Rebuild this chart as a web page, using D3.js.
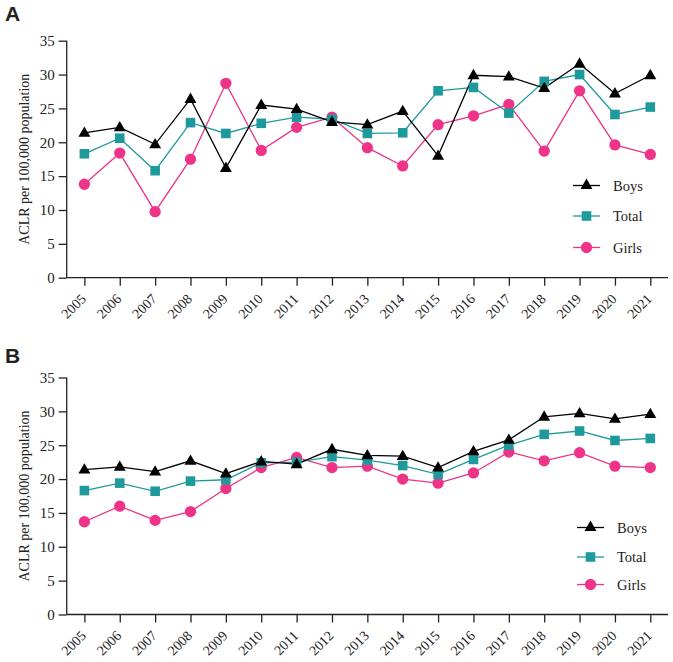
<!DOCTYPE html>
<html><head><meta charset="utf-8">
<script src="https://cdn.jsdelivr.net/npm/d3@7"></script>
<style>body{margin:0;background:#fff}svg{display:block}
svg text{font-family:"Liberation Serif","Times New Roman",Tinos,serif}
svg text.plabel{font-family:"Liberation Sans",Arial,sans-serif;font-weight:bold}
</style>
</head><body>
<svg id="c" width="673" height="662"></svg>
<script>
const years = ["2005","2006","2007","2008","2009","2010","2011","2012","2013","2014","2015","2016","2017","2018","2019","2020","2021"];
const yTicks = [0,5,10,15,20,25,30,35];
const seriesNames = ["Boys","Total","Girls"];
const seriesColors = ["#000000","#1f9a9c","#ee3389"];
const seriesSymbols = ["triangle","square","circle"];

const boysA  = [21.4,22.2,19.7,26.4,16.2,25.5,24.9,23.0,22.6,24.6,18.0,29.9,29.7,28.0,31.6,27.2,29.9];
const totalA = [18.3,20.6,15.8,22.9,21.3,22.8,23.7,23.4,21.3,21.4,27.6,28.1,24.3,29.0,30.0,24.1,25.2];
const girlsA = [13.8,18.4,9.75,17.5,28.7,18.8,22.2,23.7,19.2,16.5,22.6,23.9,25.6,18.7,27.6,19.6,18.2];

const boysB  = [21.4,21.8,21.1,22.7,20.8,22.6,22.2,24.4,23.5,23.4,21.7,24.1,25.8,29.2,29.7,28.9,29.6];
const totalB = [18.3,19.4,18.2,19.7,19.9,22.4,22.5,23.3,22.8,22.0,20.7,22.9,25.0,26.6,27.1,25.7,26.0];
const girlsB = [13.7,16.0,13.9,15.2,18.6,21.7,23.2,21.7,21.9,20.0,19.4,20.9,24.0,22.7,23.9,21.9,21.7];

const svg = d3.select("#c");
const serif = '"Liberation Serif","Times New Roman",Tinos,serif';

function symbolPath(kind){
  if(kind==="triangle") return d3.symbol(d3.symbolTriangle, 62)();
  if(kind==="square") return d3.symbol(d3.symbolSquare, 92)();
  return d3.symbol(d3.symbolCircle, 100)();
}

function panel(letter, top, letterBase, data, legendY, legendX){
  const x0 = 66.7, x1 = 668, yTop = top, yBot = top + 237;
  const x = d3.scalePoint().domain(years).range([x0, x1]).padding(0.5);
  const y = d3.scaleLinear().domain([0,35]).range([yBot, yTop]);
  const g = svg.append("g");

  g.append("text").attr("class","plabel").attr("x",5).attr("y",letterBase).text(letter)
    .attr("font-size",21).attr("fill","#222");

  const ya = g.append("g").attr("transform",`translate(${x0},0)`)
    .call(d3.axisLeft(y).tickValues(yTicks).tickSize(8).tickPadding(4).tickFormat(d3.format("d")));
  ya.attr("font-family",null);
  ya.select(".domain").attr("stroke","#222").attr("stroke-width",1.3).attr("d",`M0,${yBot}V${yTop}`);
  ya.selectAll(".tick line").attr("stroke","#222").attr("stroke-width",1.3);
  ya.selectAll(".tick text").style("font-family",serif).attr("font-size",15).attr("fill","#222");

  const xa = g.append("g").attr("transform",`translate(0,${yBot})`)
    .call(d3.axisBottom(x).tickSize(8).tickSizeOuter(0));
  xa.attr("font-family",null);
  xa.select(".domain").attr("stroke","#222").attr("stroke-width",1.3).attr("d",`M${x0},0H${x1}`);
  xa.selectAll(".tick line").attr("stroke","#222").attr("stroke-width",1.3);
  xa.selectAll(".tick text").style("font-family",serif).attr("font-size",14).attr("fill","#222")
    .attr("text-anchor","end").attr("dy",null).attr("y",null)
    .attr("transform","translate(2,22) rotate(-45)");

  g.append("text").attr("transform",`translate(26,${(yTop+yBot)/2}) rotate(-90)`)
    .attr("text-anchor","middle").attr("dominant-baseline","middle")
    .style("font-family",serif).attr("font-size",14).attr("fill","#222")
    .text("ACLR per 100,000 population");

  const line = d3.line().x((d,i)=>x(years[i])).y(d=>y(d));
  const order = [2,1,0];
  order.forEach(k=>{
    g.append("path").datum(data[k]).attr("d",line).attr("fill","none")
      .attr("stroke",seriesColors[k]).attr("stroke-width",1.3);
  });
  order.forEach(k=>{
    g.selectAll(null).data(data[k]).enter().append("path")
      .attr("d",symbolPath(seriesSymbols[k]))
      .attr("transform",(d,i)=>`translate(${x(years[i])},${y(d)+(seriesSymbols[k]==="triangle"?0.5:0)})`)
      .attr("fill",seriesColors[k]);
  });

  const lg = g.append("g");
  seriesNames.forEach((name,k)=>{
    const ly = legendY[k];
    const lx0 = legendX, lx1 = lx0+27;
    lg.append("line").attr("x1",lx0).attr("x2",lx1).attr("y1",ly).attr("y2",ly)
      .attr("stroke",seriesColors[k]).attr("stroke-width",1.3);
    lg.append("path").attr("d",symbolPath(seriesSymbols[k]))
      .attr("transform",`translate(${(lx0+lx1)/2},${ly})`).attr("fill",seriesColors[k]);
    lg.append("text").attr("x",lx1+13).attr("y",ly).attr("dy","0.35em")
      .style("font-family",serif).attr("font-size",14.5).attr("fill","#222").text(name);
  });
}

panel("A", 40.7, 21, [boysA,totalA,girlsA], [185.5,216,247.5], 573);
panel("B", 377.5, 363, [boysB,totalB,girlsB], [527.5,557,584.5], 577);
</script>
</body></html>
